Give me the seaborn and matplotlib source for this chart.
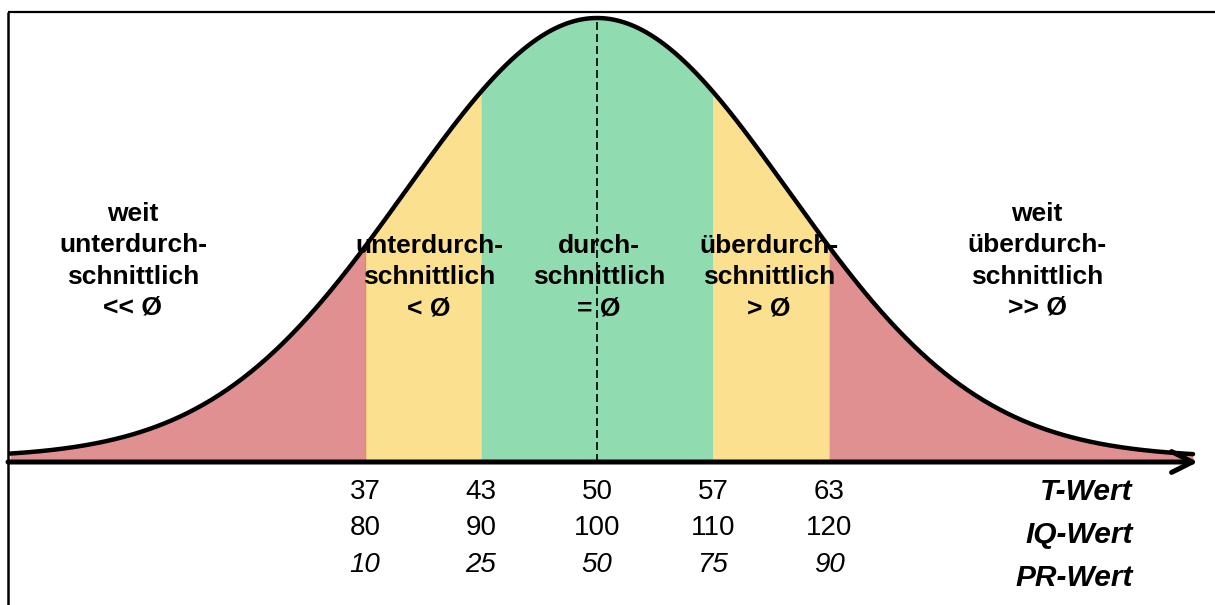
import numpy as np
import pandas as pd
import matplotlib
matplotlib.use("Agg")
import matplotlib.pyplot as plt
import seaborn as sns

# scale values below the boundaries
t_values = [37, 43, 50, 57, 63]
iq_values = [80, 90, 100, 110, 120]
pr_values = [10, 25, 50, 75, 90]
row_names = ["T-Wert", "IQ-Wert", "PR-Wert"]

region_labels = [
    "weit\nunterdurch-\nschnittlich\n<< Ø",
    "unterdurch-\nschnittlich\n< Ø",
    "durch-\nschnittlich\n= Ø",
    "überdurch-\nschnittlich\n> Ø",
    "weit\nüberdurch-\nschnittlich\n>> Ø",
]
region_colors = ["#E09091", "#FBE08F", "#91DBB1", "#FBE08F", "#E09091"]

# bell curve (peak = 1, spread in boundary steps)
curve_sigma = 1.65
curve_floor = 0.01

sns.set_style("white")
plt.rcParams["font.family"] = ["Liberation Sans", "DejaVu Sans"]
plt.rcParams["text.color"] = "black"

W, H = 1215, 605
X0, Y0, SX, SY = 597, 462, 116, 444   # pixel -> data mapping


def px(x, y):
    return (x - X0) / SX, (Y0 - y) / SY


fig = plt.figure(figsize=(W / 100, H / 100), dpi=100)
ax = fig.add_axes([0, 0, 1, 1])
ax.set_xlim(px(0, 0)[0], px(W, 0)[0])
ax.set_ylim(px(0, H)[1], px(0, 0)[1])
ax.axis("off")

bounds = np.arange(len(t_values)) - (len(t_values) - 1) / 2
x_start, x_end = px(10, 0)[0], px(1193, 0)[0]
# the middle (green) band spans the two central steps
edges = [x_start, bounds[0], bounds[1], bounds[3], bounds[4], x_end]


def bell(u):
    return curve_floor + (1 - curve_floor) * np.exp(-u ** 2 / (2 * curve_sigma ** 2))


for i, col in enumerate(region_colors):
    xs = np.linspace(edges[i], edges[i + 1], 200)
    ax.fill_between(xs, 0, bell(xs), color=col, lw=0, zorder=1)

# thin orange edge at the left boundary
ax.plot([bounds[0], bounds[0]], [0, bell(bounds[0])], color="#E9875C", lw=1, zorder=1.5)

xs = np.linspace(x_start, x_end, 600)
d = pd.DataFrame({"x": xs, "y": bell(xs)})
sns.lineplot(data=d, x="x", y="y", ax=ax, color="black", lw=3.2, zorder=3, sort=False)

# dashed mean line
ax.plot([0, 0], [0, bell(0)], color="black", lw=1.2, ls=(0, (4.8, 2.4)), zorder=2)

# axis with arrow
ax.annotate("", xy=(px(1198, 0)[0], 0), xytext=(px(8, 0)[0], 0),
            arrowprops=dict(arrowstyle="->,head_length=1.5,head_width=0.75",
                            lw=3.6, color="black", shrinkA=0, shrinkB=0),
            zorder=4)

# frame lines (top and left)
top = px(0, 12.3)[1]
ax.plot([px(8, 0)[0], px(W, 0)[0]], [top, top], color="black", lw=1.6, zorder=5,
        solid_capstyle="butt")
ax.plot([px(8, 0)[0]] * 2, [top, px(0, H)[1]], color="black", lw=1.8, zorder=5,
        solid_capstyle="butt")

# region labels
label_pos = [(133, 261), (429, 277), (599, 277), (769, 277), (1037, 261)]
for (lx, ly), txt in zip(label_pos, region_labels):
    x, y = px(lx, ly)
    ax.text(x, y, txt, ha="center", va="center", multialignment="center",
            fontsize=19, fontweight="bold", linespacing=1.37, color="black", zorder=6)

# scale numbers
row_y = [492, 528, 565]
for j, b in enumerate(bounds):
    bx = X0 + b * SX
    ax.text(*px(bx, row_y[0]), str(t_values[j]), ha="center", va="center",
            fontsize=20, color="black")
    ax.text(*px(bx, row_y[1]), str(iq_values[j]), ha="center", va="center",
            fontsize=20, color="black")
    ax.text(*px(bx, row_y[2]), str(pr_values[j]), ha="center", va="center",
            fontsize=20, style="italic", color="black")

name_y = [492, 535, 578]
for name, ny in zip(row_names, name_y):
    ax.text(*px(1133, ny), name, ha="right", va="center", fontsize=21.5,
            fontweight="bold", style="italic", color="black")

fig.savefig("out.png", dpi=100)
